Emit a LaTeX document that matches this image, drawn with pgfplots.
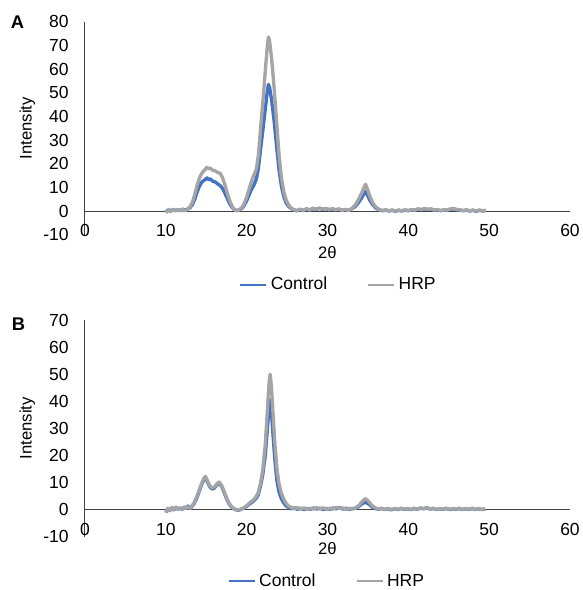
\documentclass[border=0pt]{standalone}
\usepackage{fontspec}
\setmainfont{Liberation Sans}
\usepackage{pgfplots}
\usepackage{pgfplotstable}
\pgfplotsset{compat=1.18}

\definecolor{ctrlblue}{RGB}{68,114,196}
\definecolor{hrpgray}{RGB}{165,165,165}

% XRD patterns, panel A
\pgfplotstableread{
x y
10.0 -0.4
10.3 0.5
10.6 0.1
10.9 0.7
11.2 0.2
11.5 0.6
11.8 0.1
12.1 0.8
12.4 0.3
12.7 0.9
13.0 1.4
13.3 2.8
13.6 5.2
13.9 8.3
14.2 10.8
14.5 12.4
14.8 13.1
15.1 14.0
15.3 13.2
15.5 13.6
15.8 12.6
16.1 12.3
16.4 11.5
16.7 10.8
17.0 9.6
17.3 7.6
17.6 5.3
17.9 3.1
18.2 1.5
18.5 0.5
18.8 0.2
19.1 0.5
19.4 1.1
19.7 2.4
20.0 4.3
20.3 6.8
20.6 9.2
20.9 11.0
21.2 13.5
21.45 18.0
21.7 25.5
22.0 34.0
22.3 43.0
22.55 50.5
22.7 53.5
22.85 52.0
23.1 46.5
23.4 38.0
23.7 27.5
24.0 17.5
24.3 10.5
24.6 6.0
24.9 3.3
25.2 1.9
25.5 1.1
25.8 0.5
26.2 0.1
26.6 0.6
27.0 0.2
27.4 0.8
27.8 0.4
28.2 1.0
28.6 0.6
29.0 1.1
29.4 0.7
29.8 1.0
30.2 0.5
30.6 0.9
31.0 0.4
31.4 0.8
31.8 0.2
32.2 0.6
32.6 0.3
33.0 0.9
33.4 1.8
33.8 3.4
34.2 5.4
34.5 7.2
34.7 8.2
34.9 7.0
35.2 4.8
35.6 2.6
36.0 1.2
36.4 0.5
36.8 0.1
37.2 0.4
37.6 0.0
38.0 0.3
38.4 -0.1
38.8 0.3
39.2 0.0
39.6 0.4
40.0 0.1
40.4 0.5
40.8 0.3
41.2 0.8
41.6 0.5
42.0 0.9
42.4 0.6
42.8 0.8
43.2 0.3
43.6 0.5
44.0 0.1
44.4 0.4
44.8 0.3
45.2 0.7
45.6 0.9
46.0 0.5
46.4 0.4
46.8 0.1
47.2 0.4
47.6 0.0
48.0 0.3
48.4 -0.1
48.8 0.3
49.2 0.0
49.6 0.2
}\ctrlA

\pgfplotstableread{
x y
10.0 -0.7
10.3 0.3
10.6 -0.2
10.9 0.6
11.2 0.0
11.5 0.7
11.8 0.2
12.1 0.6
12.4 0.1
12.7 0.8
13.0 1.8
13.3 3.8
13.6 7.3
13.9 11.2
14.2 14.3
14.5 16.2
14.8 17.3
15.1 18.5
15.3 17.8
15.5 18.2
15.8 17.2
16.1 17.0
16.4 16.3
16.7 16.0
17.0 14.2
17.3 11.2
17.6 7.6
17.9 4.4
18.2 2.0
18.5 0.6
18.8 0.1
19.1 0.6
19.4 1.4
19.7 3.2
20.0 5.8
20.3 9.2
20.6 12.6
20.9 15.2
21.2 17.8
21.45 23.5
21.7 34.0
22.0 46.0
22.3 59.0
22.55 69.5
22.7 73.5
22.85 71.5
23.1 64.0
23.4 52.0
23.7 38.0
24.0 24.0
24.3 14.0
24.6 8.0
24.9 4.5
25.2 2.5
25.5 1.3
25.8 0.6
26.2 0.2
26.6 0.8
27.0 0.3
27.4 1.0
27.8 0.5
28.2 1.2
28.6 0.7
29.0 1.3
29.4 0.8
29.8 1.1
30.2 0.6
30.6 1.0
31.0 0.5
31.4 0.9
31.8 0.3
32.2 0.7
32.6 0.2
33.0 1.0
33.4 2.4
33.8 4.6
34.2 7.4
34.5 9.8
34.7 11.3
34.9 9.6
35.2 6.6
35.6 3.5
36.0 1.6
36.4 0.6
36.8 0.2
37.2 0.5
37.6 0.1
38.0 0.4
38.4 0.0
38.8 0.4
39.2 0.1
39.6 0.5
40.0 0.2
40.4 0.6
40.8 0.4
41.2 0.9
41.6 0.6
42.0 1.1
42.4 0.7
42.8 0.9
43.2 0.4
43.6 0.6
44.0 0.2
44.4 0.5
44.8 0.4
45.2 0.9
45.6 1.1
46.0 0.6
46.4 0.5
46.8 0.2
47.2 0.5
47.6 0.1
48.0 0.4
48.4 0.0
48.8 0.4
49.2 0.1
49.6 0.3
}\hrpA

% XRD patterns, panel B
\pgfplotstableread{
x y
10.0 -0.9
10.25 0.3
10.5 -0.4
10.75 0.7
11.0 -0.1
11.25 0.8
11.5 0.1
11.75 0.6
12.0 0.0
12.25 0.9
12.5 0.6
12.75 1.3
13.0 0.4
13.25 1.2
13.5 2.2
13.8 4.0
14.1 6.5
14.4 9.0
14.7 11.0
14.9 11.8
15.1 10.5
15.4 8.6
15.7 7.6
16.0 7.9
16.3 9.1
16.6 9.8
16.9 8.6
17.2 6.4
17.5 4.1
17.8 2.2
18.1 1.0
18.4 0.3
18.7 -0.1
19.0 -0.3
19.3 0.1
19.6 0.5
19.9 1.0
20.2 1.7
20.5 2.4
20.8 3.0
21.1 3.9
21.4 5.2
21.7 8.5
22.0 13.0
22.3 20.0
22.55 29.0
22.75 37.0
22.9 40.5
23.05 37.0
23.25 28.0
23.5 18.0
23.75 10.5
24.0 6.5
24.3 4.0
24.6 2.4
24.9 1.3
25.2 0.8
25.5 0.3
25.9 0.6
26.3 0.1
26.7 0.5
27.1 0.0
27.5 0.4
27.9 0.1
28.3 0.6
28.7 0.2
29.1 0.5
29.5 0.0
29.9 0.4
30.3 0.1
30.7 0.6
31.1 0.3
31.5 0.7
31.9 0.2
32.3 0.5
32.7 0.1
33.1 0.4
33.5 0.5
33.9 1.2
34.2 2.0
34.5 2.5
34.7 2.7
34.9 2.4
35.2 1.8
35.5 1.0
35.9 0.4
36.3 0.1
36.7 0.4
37.1 0.0
37.5 0.3
37.9 -0.1
38.3 0.3
38.7 0.0
39.1 0.4
39.5 0.1
39.9 0.3
40.3 0.0
40.7 0.4
41.1 0.1
41.5 0.5
41.9 0.3
42.3 0.6
42.7 0.2
43.1 0.4
43.5 0.0
43.9 0.3
44.3 0.1
44.7 0.4
45.1 0.0
45.5 0.3
45.9 0.1
46.3 0.4
46.7 0.0
47.1 0.3
47.5 0.1
47.9 0.4
48.3 0.0
48.7 0.3
49.1 0.0
49.5 0.2
}\ctrlB

\pgfplotstableread{
x y
10.0 -1.2
10.25 0.5
10.5 -0.3
10.75 0.8
11.0 0.0
11.25 0.9
11.5 0.2
11.75 0.7
12.0 0.1
12.25 1.0
12.5 0.4
12.75 1.1
13.0 0.5
13.25 1.5
13.5 2.5
13.8 4.5
14.1 7.0
14.4 9.5
14.7 11.5
14.9 12.3
15.1 11.0
15.4 9.0
15.7 8.0
16.0 8.3
16.3 9.5
16.6 10.2
16.9 9.0
17.2 6.8
17.5 4.5
17.8 2.5
18.1 1.2
18.4 0.4
18.7 0.0
19.0 -0.2
19.3 0.2
19.6 0.6
19.9 1.2
20.2 2.0
20.5 2.8
20.8 3.5
21.1 4.5
21.4 6.0
21.7 9.5
22.0 15.0
22.3 24.0
22.55 36.0
22.75 46.0
22.9 50.0
23.05 46.0
23.25 36.0
23.5 24.0
23.75 15.0
24.0 9.5
24.3 6.0
24.6 3.8
24.9 2.2
25.2 1.3
25.5 0.8
25.9 0.3
26.3 0.7
26.7 0.2
27.1 0.6
27.5 0.1
27.9 0.5
28.3 0.2
28.7 0.7
29.1 0.3
29.5 0.6
29.9 0.1
30.3 0.5
30.7 0.2
31.1 0.8
31.5 0.4
31.9 0.6
32.3 0.1
32.7 0.5
33.1 0.2
33.5 0.7
33.9 1.6
34.2 2.7
34.5 3.6
34.7 4.0
34.9 3.6
35.2 2.6
35.5 1.5
35.9 0.7
36.3 0.2
36.7 0.5
37.1 0.1
37.5 0.4
37.9 0.0
38.3 0.4
38.7 0.1
39.1 0.5
39.5 0.2
39.9 0.4
40.3 0.1
40.7 0.5
41.1 0.2
41.5 0.6
41.9 0.4
42.3 0.7
42.7 0.3
43.1 0.5
43.5 0.1
43.9 0.4
44.3 0.2
44.7 0.5
45.1 0.1
45.5 0.4
45.9 0.2
46.3 0.5
46.7 0.1
47.1 0.4
47.5 0.2
47.9 0.5
48.3 0.1
48.7 0.4
49.1 0.1
49.5 0.3
}\hrpB

\pgfplotsset{
  xrd/.style={
    anchor=south west,
    width=291pt, scale only axis,
    xmin=0, xmax=60,
    xtick={0,10,...,60},
    axis x line*=bottom,
    axis y line*=left,
    x axis line style={draw=none},
    y axis line style={black!75, line width=0.6pt},
    major tick length=0pt,
    /pgf/number format/assume math mode=true,
    ticklabel style={font=\fontsize{10.5}{12}\selectfont},
    yticklabel style={anchor=east, xshift=-6.3pt},
    xlabel={2θ},
    ylabel={Intensity},
    label style={font=\fontsize{10}{12}\selectfont},
    every axis y label/.style={at={(axis description cs:0,0.5)}, rotate=90, anchor=center, yshift=34.6pt},
    legend columns=2,
    legend style={draw=none, fill=none, inner sep=0pt,
      font=\fontsize{10.5}{12}\selectfont,
      /tikz/every even column/.append style={column sep=22pt}},
    legend image code/.code={\draw[##1, line width=1.3pt] (0pt,0pt) -- (15.6pt,0pt);},
    every axis plot/.append style={line width=2pt, line join=round},
  }
}

\begin{document}
\begin{tikzpicture}
\useasboundingbox (0pt,0pt) rectangle (349.8pt,-354pt);

\node[font=\bfseries\fontsize{11}{12}\selectfont] at (10.5pt,-13.2pt) {A};
\begin{axis}[xrd,
  at={(51pt,-140.8pt)}, height=127.8pt,
  ymin=-10, ymax=80, ytick={-10,0,...,80},
  xticklabel style={anchor=center, yshift=2.4pt},
  every axis x label/.style={at={(axis description cs:0.5,0)}, anchor=center, yshift=-11pt},
  legend style={at={(0.5,0)}, anchor=center, xshift=7pt, yshift=-30pt},
]
\draw[black!75, line width=0.6pt] (axis cs:0,0) -- (axis cs:60,0);
\addplot[ctrlblue] table[x=x, y=y] {\ctrlA};
\addplot[hrpgray] table[x=x, y=y] {\hrpA};
\legend{Control, HRP}
\end{axis}

\node[font=\bfseries\fontsize{11}{12}\selectfont] at (11.1pt,-194.4pt) {B};
\begin{axis}[xrd,
  at={(51pt,-322pt)}, height=130pt,
  ymin=-10, ymax=70, ytick={-10,0,...,70},
  xticklabel style={anchor=center, yshift=4.2pt},
  every axis x label/.style={at={(axis description cs:0.5,0)}, anchor=center, yshift=-7pt},
  legend style={at={(0.5,0)}, anchor=center, yshift=-26.8pt},
]
\draw[black!75, line width=0.6pt] (axis cs:0,0) -- (axis cs:60,0);
\addplot[ctrlblue] table[x=x, y=y] {\ctrlB};
\addplot[hrpgray] table[x=x, y=y] {\hrpB};
\legend{Control, HRP}
\end{axis}
\end{tikzpicture}
\end{document}
